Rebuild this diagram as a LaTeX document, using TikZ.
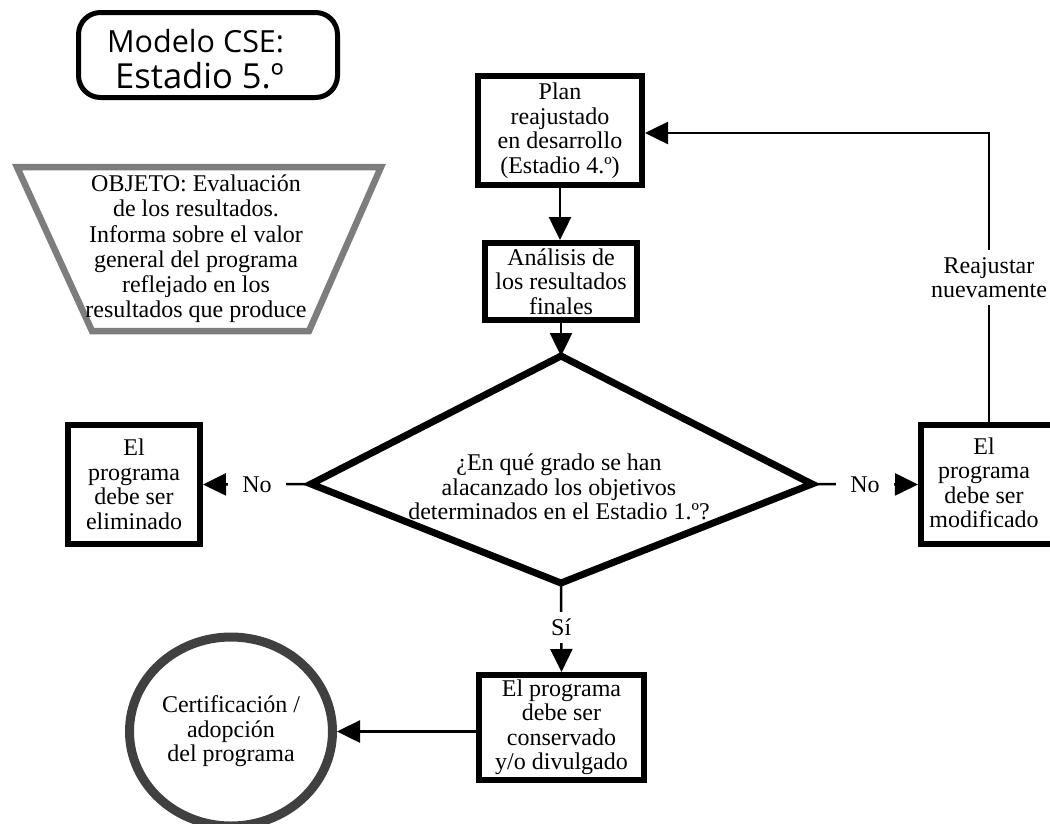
\documentclass[tikz,border=0pt]{standalone}
\usepackage{fontspec}
\setmainfont{Liberation Serif}
\newfontfamily\titlefont{Open Sans}
\usetikzlibrary{arrows.meta,shapes.geometric}
\definecolor{objgray}{RGB}{125,125,125}
\definecolor{circgray}{RGB}{64,64,64}

\begin{document}
\begin{tikzpicture}[x=1pt,y=-1pt,
  every node/.style={font=\fontsize{24}{24.5}\selectfont},
  stepbox/.style={draw, line width=6pt, align=center, inner sep=0pt},
  conn/.style={line width=2.5pt, -{Triangle[length=23pt,width=22pt]}},
  lbl/.style={fill=white, inner xsep=14pt, inner ysep=7pt, align=center},
]
\clip (0,0) rectangle (1050,823);

% title
\node[draw, line width=5pt, rounded corners=22pt, minimum width=259pt, minimum height=85pt] (title) at (208,55) {};
\node[anchor=base west, inner sep=0pt, font=\titlefont\fontsize{30.5}{30.5}\selectfont] (t1) at (107,52) {Modelo CSE:};
\node[anchor=base west, inner sep=0pt, font=\titlefont\fontsize{34.5}{34.5}\selectfont] (t2) at (115,88) {Estadio 5.º};

% objective trapezoid
\draw[objgray, line width=6.5pt, line join=miter] (17,167) -- (381,167) -- (309,331) -- (92,331) -- cycle;
\node[align=center, font=\fontsize{24}{25.2}\selectfont] (objeto) at (196,249)
  {OBJETO: Evaluación\\de los resultados.\\Informa sobre el valor\\general del programa\\reflejado en los\\resultados que produce};

% main column
\node[stepbox, minimum width=164pt, minimum height=109pt] (plan) at (560,130.5)
  {Plan\\reajustado\\en desarrollo\\(Estadio 4.º)};
\node[stepbox, minimum width=152pt, minimum height=77pt] (analisis) at (561,281.5)
  {Análisis de\\los resultados\\finales};

% decision
\coordinate (dT) at (561,356);
\coordinate (dL) at (311,484);
\coordinate (dR) at (812,484);
\coordinate (dB) at (561,583);
\draw[line width=7pt, line join=miter] (dT) -- (dR) -- (dB) -- (dL) -- cycle;
\node[align=center] (question) at (559,487)
  {¿En qué grado se han\\alacanzado los objetivos\\determinados en el Estadio 1.º?};

% outcomes
\node[stepbox, minimum width=132pt, minimum height=119pt] (elim) at (134,484.5)
  {El\\programa\\debe ser\\eliminado};
\node[stepbox, minimum width=132pt, minimum height=119pt] (modif) at (987,484.5) {};
\node[align=center] (modiftext) at (984,483) {El\\programa\\debe ser\\modificado};
\node[stepbox, minimum width=165pt, minimum height=105pt] (cons) at (561.5,727.5)
  {El programa\\debe ser\\conservado\\y/o divulgado};
\node[draw=circgray, line width=9pt, ellipse, minimum width=203pt, minimum height=189pt,
      align=center, inner sep=0pt] (cert) at (231,731.5)
  {Certificación /\\adopción\\del programa};

% connectors
\draw[conn] (plan.south) -- (plan.south |- analisis.north);
\draw[conn] (analisis.south) -- (dT);
\draw[conn] (dL) -- node[lbl] {No} (elim.east);
\draw[conn] (dR) -- node[lbl] {No} (modif.west);
\draw[conn] (dB) -- node[lbl] {Sí} (cons.north);
\draw[conn] (cons.west |- cert.east) -- (cert.east);
\coordinate (turn) at (989,133);
\draw[conn] (turn |- modif.north) -- node[lbl] {Reajustar\\nuevamente} (turn) -- (turn -| plan.east);
\end{tikzpicture}
\end{document}
